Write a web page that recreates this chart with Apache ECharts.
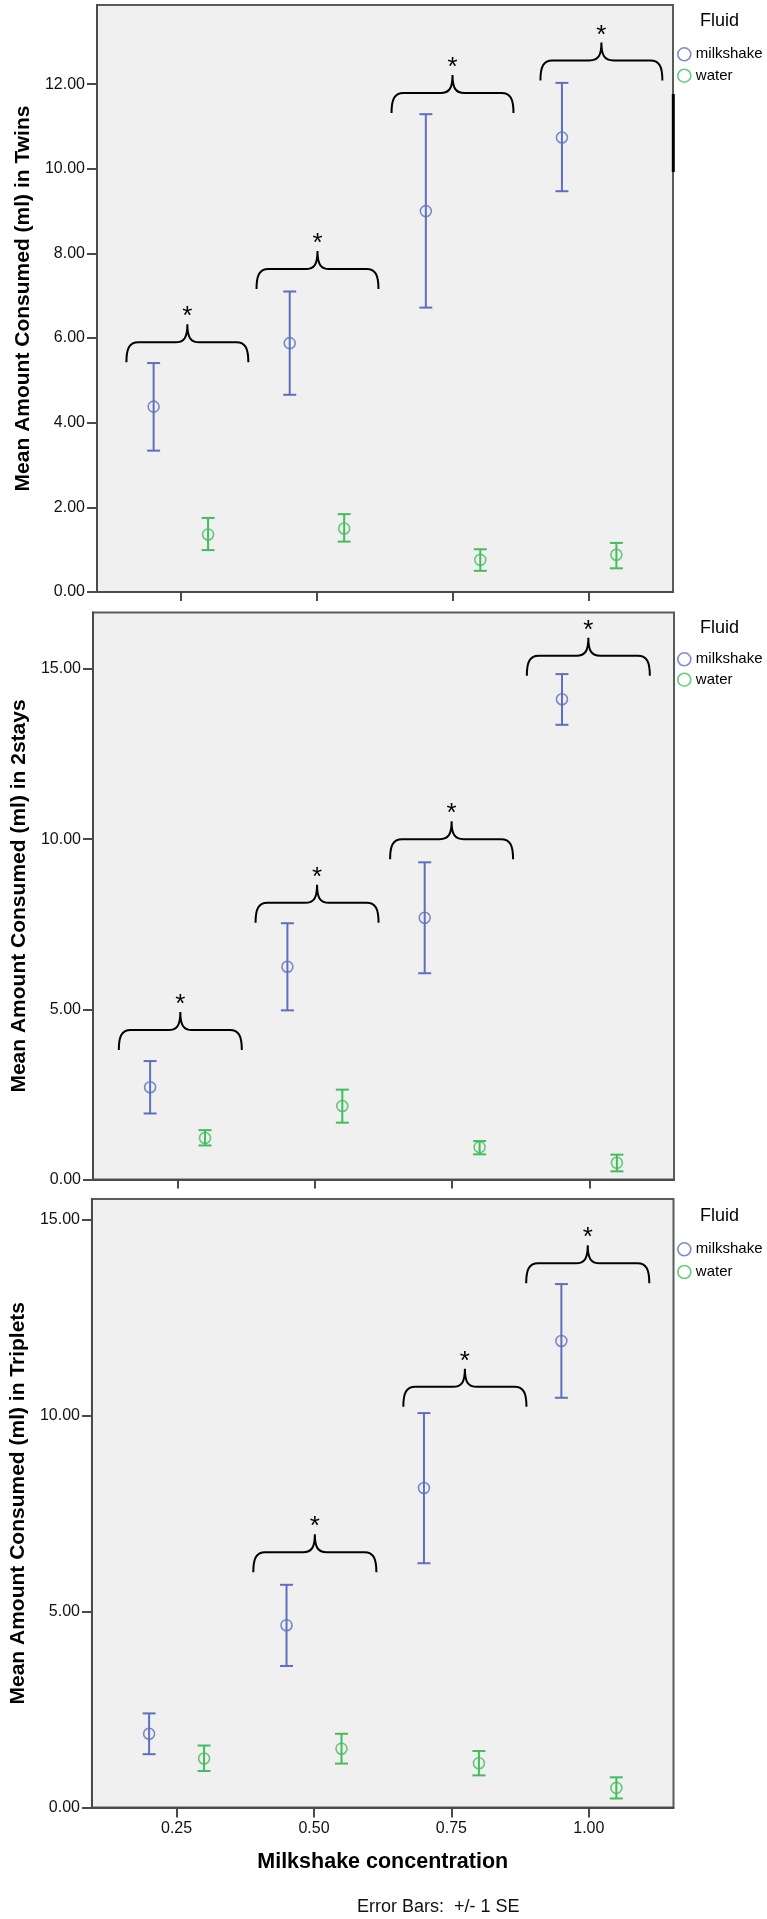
<!DOCTYPE html>
<html>
<head>
<meta charset="utf-8">
<script src="https://cdn.jsdelivr.net/npm/echarts@6/dist/echarts.min.js"></script>
<style>
html,body{margin:0;padding:0;background:#fff;}
#chart{width:767px;height:1919px;}
</style>
</head>
<body>
<div id="chart"></div>
<script>
// ---------- DATA ----------
const xTickValues = [0.25, 0.50, 0.75, 1.00];
const milkX = [0.20, 0.45, 0.70, 0.95];
const waterX = [0.30, 0.55, 0.80, 1.05];

// Twins
const twinsMilkMean = [4.38, 5.88, 9.00, 10.74];
const twinsMilkLo   = [3.34, 4.66, 6.72, 9.47];
const twinsMilkHi   = [5.41, 7.10, 11.29, 12.03];
const twinsWaterMean = [1.36, 1.50, 0.76, 0.88];
const twinsWaterLo   = [0.99, 1.19, 0.50, 0.56];
const twinsWaterHi   = [1.75, 1.84, 1.01, 1.16];
const twinsBraceX = [0.262, 0.501, 0.749, 1.0225];
const twinsBraceY = [5.90, 7.63, 11.79, 12.56];
const twinsYTicks = [0, 2, 4, 6, 8, 10, 12];

// 2stays
const stays2MilkMean = [2.71, 6.25, 7.69, 14.11];
const stays2MilkLo   = [1.94, 4.97, 6.06, 13.36];
const stays2MilkHi   = [3.48, 7.53, 9.32, 14.85];
const stays2WaterMean = [1.22, 2.16, 0.95, 0.49];
const stays2WaterLo   = [1.00, 1.67, 0.74, 0.24];
const stays2WaterHi   = [1.45, 2.64, 1.13, 0.73];
const stays2BraceX = [0.255, 0.504, 0.749, 0.998];
const stays2BraceY = [4.39, 8.13, 10.00, 15.39];
const stays2YTicks = [0, 5, 10, 15];

// Triplets
const tripMilkMean = [1.88, 4.65, 8.15, 11.90];
const tripMilkLo   = [1.36, 3.61, 6.23, 10.45];
const tripMilkHi   = [2.40, 5.68, 10.06, 13.35];
const tripWaterMean = [1.25, 1.50, 1.13, 0.50];
const tripWaterLo   = [0.93, 1.12, 0.82, 0.23];
const tripWaterHi   = [1.58, 1.88, 1.44, 0.77];
const tripBraceX = [0.5015, 0.7745, 0.998];
const tripBraceY = [6.51, 10.73, 13.88];
const tripYTicks = [0, 5, 10, 15];

const yTitles = ['Mean Amount Consumed (ml) in Twins', 'Mean Amount Consumed (ml) in 2stays', 'Mean Amount Consumed (ml) in Triplets'];
const yMax = [13.87, 16.66, 15.52];
const xMin = 0.096, xMax = 1.154;
const seriesNames = ['milkshake', 'water'];

// ---------- STYLE ----------
const FONT = 'Liberation Sans, Arial, sans-serif';
const C_MILK = '#5d6fbd';
const C_WATER = '#42bd5c';
const AXIS_C = '#4a4a4a';
const BRACE_HALF = 0.112;
const grids = [
  {left: 97, top: 5, width: 576, height: 587},
  {left: 93, top: 612.5, width: 581, height: 567},
  {left: 87.5, top: 1199, width: 586, height: 608.5}
];
const legendTops = [46.8, 651.8, 1241.8];
const legendGaps = [6.4, 5.4, 7.7];
const fluidY = [23, 630, 1218];

function renderErr(params, api) {
  const x = api.value(0), lo = api.value(1), hi = api.value(2);
  const t = api.coord([x, hi]), b = api.coord([x, lo]);
  const col = api.visual('color');
  const w = 6.5;
  const st = {stroke: col, lineWidth: 2};
  return {type: 'group', children: [
    {type: 'line', shape: {x1: t[0], y1: t[1], x2: b[0], y2: b[1]}, style: st},
    {type: 'line', shape: {x1: t[0] - w, y1: t[1], x2: t[0] + w, y2: t[1]}, style: st},
    {type: 'line', shape: {x1: b[0] - w, y1: b[1], x2: b[0] + w, y2: b[1]}, style: st}
  ]};
}

function renderBrace(params, api) {
  const xc = api.value(0), yv = api.value(1);
  const L = api.coord([xc - BRACE_HALF, yv]);
  const R = api.coord([xc + BRACE_HALF, yv]);
  const C = api.coord([xc, yv]);
  const Y = C[1], l = L[0], r = R[0], c = C[0];
  const d = 'M' + l + ' ' + (Y + 20) +
    ' C' + l + ' ' + (Y + 6) + ' ' + (l + 3) + ' ' + Y + ' ' + (l + 12) + ' ' + Y +
    ' L' + (c - 12) + ' ' + Y +
    ' C' + (c - 3) + ' ' + Y + ' ' + c + ' ' + (Y - 5) + ' ' + c + ' ' + (Y - 18) +
    ' C' + c + ' ' + (Y - 5) + ' ' + (c + 3) + ' ' + Y + ' ' + (c + 12) + ' ' + Y +
    ' L' + (r - 12) + ' ' + Y +
    ' C' + (r - 3) + ' ' + Y + ' ' + r + ' ' + (Y + 6) + ' ' + r + ' ' + (Y + 20);
  return {type: 'group', children: [
    {type: 'path', shape: {pathData: d}, style: {fill: 'none', stroke: '#000', lineWidth: 2}},
    {type: 'text', style: {text: '*', x: c, y: Y - 25, align: 'center', verticalAlign: 'middle', font: '26px ' + FONT, fill: '#000'}}
  ]};
}

const panels = [
  {mm: twinsMilkMean, ml: twinsMilkLo, mh: twinsMilkHi, wm: twinsWaterMean, wl: twinsWaterLo, wh: twinsWaterHi, bx: twinsBraceX, by: twinsBraceY, yt: twinsYTicks},
  {mm: stays2MilkMean, ml: stays2MilkLo, mh: stays2MilkHi, wm: stays2WaterMean, wl: stays2WaterLo, wh: stays2WaterHi, bx: stays2BraceX, by: stays2BraceY, yt: stays2YTicks},
  {mm: tripMilkMean, ml: tripMilkLo, mh: tripMilkHi, wm: tripWaterMean, wl: tripWaterLo, wh: tripWaterHi, bx: tripBraceX, by: tripBraceY, yt: tripYTicks}
];

const option = {
  animation: false,
  backgroundColor: '#ffffff',
  grid: grids.map(g => Object.assign({show: true, backgroundColor: '#f0f0f0', borderColor: '#5a5a5a', borderWidth: 2, containLabel: false}, g)),
  xAxis: panels.map((p, i) => ({
    type: 'value', gridIndex: i, min: xMin, max: xMax,
    axisLine: {show: true, onZero: false, lineStyle: {color: AXIS_C, width: 2}},
    axisTick: {show: true, customValues: xTickValues, length: i === 2 ? 10 : 9, lineStyle: {color: AXIS_C, width: 2}},
    axisLabel: {show: i === 2, customValues: xTickValues, margin: 13, color: '#111', fontSize: 16, fontFamily: FONT, formatter: v => v.toFixed(2)},
    splitLine: {show: false},
    name: i === 2 ? 'Milkshake concentration' : '',
    nameLocation: 'middle', nameGap: 44,
    nameTextStyle: {fontSize: 21.5, fontWeight: 'bold', color: '#000', fontFamily: FONT}
  })),
  yAxis: panels.map((p, i) => ({
    type: 'value', gridIndex: i, min: 0, max: yMax[i],
    axisLine: {show: true, onZero: false, lineStyle: {color: AXIS_C, width: 2}},
    axisTick: {show: true, customValues: p.yt, length: 10, lineStyle: {color: AXIS_C, width: 2}},
    axisLabel: {customValues: p.yt, margin: 12, color: '#111', fontSize: 16, fontFamily: FONT, formatter: v => v.toFixed(2)},
    splitLine: {show: false},
    name: yTitles[i], nameLocation: 'middle', nameGap: 62,
    nameTextStyle: {fontSize: 21, fontWeight: 'bold', color: '#000', fontFamily: FONT}
  })),
  legend: panels.map((p, i) => ({
    orient: 'vertical', left: 677, top: legendTops[i], padding: 0,
    itemGap: legendGaps[i], itemWidth: 13, itemHeight: 13, icon: 'circle',
    textStyle: {fontSize: 15, color: '#000', fontFamily: FONT, lineHeight: 13},
    selectedMode: false,
    data: [
      {name: 'milkshake', itemStyle: {color: 'transparent', borderColor: C_MILK, borderWidth: 1.6}},
      {name: 'water', itemStyle: {color: 'transparent', borderColor: C_WATER, borderWidth: 1.6}}
    ]
  })),
  graphic: [
    ...fluidY.map(y => ({type: 'text', left: 700, top: y - 11, style: {text: 'Fluid', font: '18px ' + FONT, fill: '#000'}})),
    {type: 'text', left: 357, top: 1898, style: {text: 'Error Bars:  +/- 1 SE', font: '18px ' + FONT, fill: '#111'}},
    {type: 'rect', shape: {x: 671.8, y: 94, width: 3, height: 78}, style: {fill: '#000'}}
  ],
  series: []
};

panels.forEach((p, i) => {
  option.series.push({
    type: 'custom', xAxisIndex: i, yAxisIndex: i, renderItem: renderErr, itemStyle: {color: C_MILK},
    encode: {x: 0, y: [1, 2]}, silent: true,
    data: milkX.map((x, k) => [x, p.ml[k], p.mh[k]])
  });
  option.series.push({
    type: 'custom', xAxisIndex: i, yAxisIndex: i, renderItem: renderErr, itemStyle: {color: C_WATER},
    encode: {x: 0, y: [1, 2]}, silent: true,
    data: waterX.map((x, k) => [x, p.wl[k], p.wh[k]])
  });
  option.series.push({
    name: seriesNames[0], type: 'scatter', xAxisIndex: i, yAxisIndex: i, symbol: 'circle', symbolSize: 11,
    itemStyle: {color: 'transparent', borderColor: C_MILK, borderWidth: 1.6},
    data: milkX.map((x, k) => [x, p.mm[k]])
  });
  option.series.push({
    name: seriesNames[1], type: 'scatter', xAxisIndex: i, yAxisIndex: i, symbol: 'circle', symbolSize: 11,
    itemStyle: {color: 'transparent', borderColor: C_WATER, borderWidth: 1.6},
    data: waterX.map((x, k) => [x, p.wm[k]])
  });
  option.series.push({
    type: 'custom', xAxisIndex: i, yAxisIndex: i, renderItem: renderBrace, silent: true,
    encode: {x: 0, y: 1},
    data: p.bx.map((x, k) => [x, p.by[k]])
  });
});

const chart = echarts.init(document.getElementById('chart'), null, {renderer: 'canvas'});
chart.setOption(option);
</script>
</body>
</html>
